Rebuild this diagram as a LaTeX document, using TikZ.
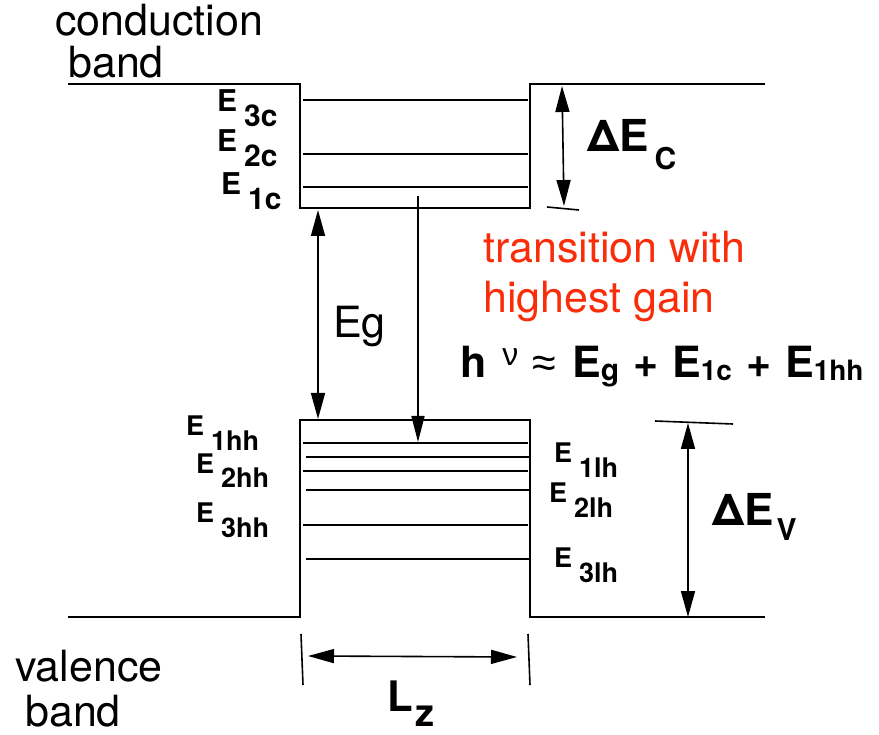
\documentclass[tikz,border=0pt]{standalone}
\usepackage{fontspec}
\setmainfont{TeX Gyre Heros}
\newfontfamily\symfont{Liberation Sans}
\usetikzlibrary{arrows.meta}
\definecolor{gainred}{RGB}{250,45,10}
\newcommand{\fsz}[1]{\fontsize{#1}{#1}\selectfont}
\newcommand{\lvl}[1]{E\kern7pt\raisebox{-15pt}{#1}}

\begin{document}
\begin{tikzpicture}[x=1pt, y=-1pt,
    band/.style={line width=2.6pt, line join=miter},
    level/.style={line width=1.6pt},
    dimarrow/.style={{Triangle[length=26pt,width=14pt]}-{Triangle[length=26pt,width=14pt]}, line width=1.6pt},
    onearrow/.style={-{Triangle[length=26pt,width=13pt]}, line width=1.6pt},
    tick/.style={line width=1.6pt},
    clab/.style={anchor=base west, inner sep=0pt, font=\fsz{30}\bfseries},
    vlab/.style={anchor=base west, inner sep=0pt, font=\fsz{27}\bfseries},
    txt/.style={anchor=base west, inner sep=0pt, font=\fsz{43}}
]
\useasboundingbox (0,0) rectangle (879,735);

% conduction band well
\coordinate (cl)  at (68,84);
\coordinate (ctl) at (300,84);
\coordinate (cbl) at (300,208);
\coordinate (cbr) at (530,208);
\coordinate (ctr) at (530,84);
\coordinate (cr)  at (765,84);
\draw[band] (cl) -- (ctl) -- (cbl) -- (cbr) -- (ctr) -- (cr);

% valence band well
\coordinate (vl)  at (68,617);
\coordinate (vbl) at (300,617);
\coordinate (vtl) at (300,420);
\coordinate (vtr) at (530,420);
\coordinate (vbr) at (530,617);
\coordinate (vr)  at (765,617);
\draw[band] (vl) -- (vbl) -- (vtl) -- (vtr) -- (vbr) -- (vr);

% confined levels
\foreach \y in {100,154,187}
  \draw[level] (303,\y) -- (528,\y);
\foreach \y in {443,471,525}
  \draw[level] (303,\y) -- (528,\y);
\foreach \y in {457,490,559}
  \draw[level] (306,\y) -- (530,\y);

% level labels
\node[clab] (e3c) at (217,112) {\lvl{3c}};
\node[clab] (e2c) at (217,152) {\lvl{2c}};
\node[clab] (e1c) at (221,195) {\lvl{1c}};
\node[vlab] (e1hh) at (186,436) {\lvl{1hh}};
\node[vlab] (e2hh) at (196,473) {\lvl{2hh}};
\node[vlab] (e3hh) at (196,522) {\lvl{3hh}};
\node[vlab] (e1lh) at (554,463) {\lvl{1lh}};
\node[vlab] (e2lh) at (549,502) {\lvl{2lh}};
\node[vlab] (e3lh) at (554,567) {\lvl{3lh}};

% band offsets
\coordinate (dctop) at (562,86);
\coordinate (dcbot) at (564,206);
\draw[dimarrow] (dctop) -- (dcbot);
\draw[tick] (547,207) -- (579,210);
\node[anchor=base west, inner sep=0pt, font=\fsz{44}\bfseries] (dec) at (587,152)
  {ΔE\kern6pt\raisebox{-18pt}{\fsz{30}C}};

\coordinate (dvtop) at (688,423);
\coordinate (dvbot) at (688,617);
\draw[tick] (655,421) -- (733,424);
\draw[dimarrow] (dvtop) -- (dvbot);
\node[anchor=base west, inner sep=0pt, font=\fsz{44}\bfseries] (dev) at (712,525)
  {ΔE\kern3pt\raisebox{-15pt}{\fsz{30}V}};

% gap and transition
\coordinate (egtop) at (318,210);
\coordinate (egbot) at (318,419);
\draw[dimarrow] (egtop) -- (egbot);
\node[txt] (eg) at (333,338) {Eg};

\coordinate (trtop) at (418,196);
\coordinate (trbot) at (418,442);
\draw[onearrow] (trtop) -- (trbot);

\node[txt, text=gainred] (tr1) at (483,263) {transition with};
\node[txt, text=gainred] (tr2) at (483,313) {highest gain};

\node[anchor=base west, inner sep=0pt, font=\fsz{43}\bfseries] (hnu) at (460,378)
  {h\kern16pt\raisebox{13pt}{\symfont\mdseries\fsz{32}ν}\kern14pt{\symfont\mdseries≈}\kern16pt%
   E\raisebox{-3pt}{\fsz{30}g}\kern14pt+\kern14ptE\raisebox{-3pt}{\fsz{28}1c}\kern14pt+\kern14ptE\raisebox{-3pt}{\fsz{28}1hh}};

% well width
\coordinate (lzl) at (301,634);
\coordinate (lzlb) at (303,685);
\coordinate (lzr) at (528,634);
\coordinate (lzrb) at (530,685);
\draw[tick] (lzl) -- (lzlb);
\draw[tick] (lzr) -- (lzrb);
\coordinate (lza) at (308,656);
\coordinate (lzb) at (517,657);
\draw[dimarrow] (lza) -- (lzb);
\node[anchor=base west, inner sep=0pt, font=\fsz{42}\bfseries] (lz) at (387,711)
  {L\kern3pt\raisebox{-15pt}{\fsz{38}z}};

% band names
\node[txt] (cb1) at (55,36) {conduction};
\node[txt] (cb2) at (68,78) {band};
\node[txt] (vb1) at (15,681) {valence};
\node[txt] (vb2) at (25,726) {band};
\end{tikzpicture}
\end{document}
